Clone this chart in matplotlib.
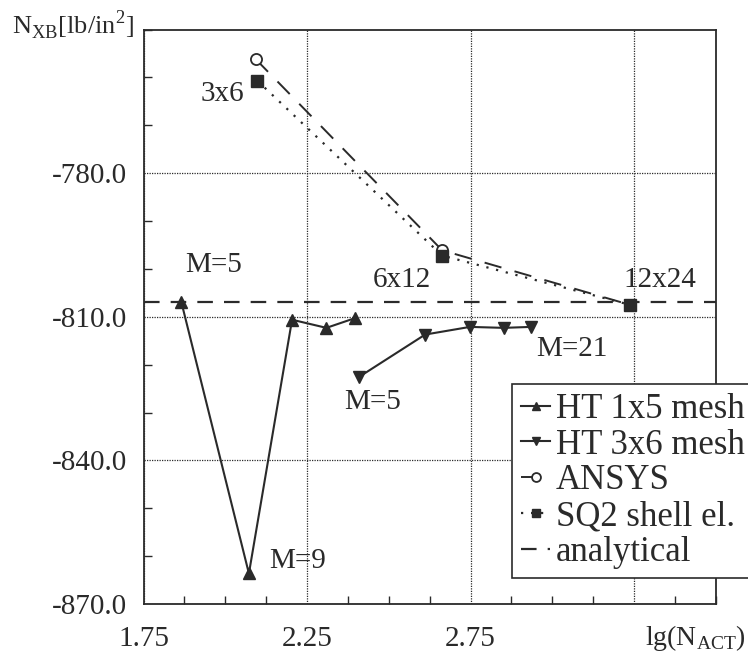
import matplotlib.pyplot as plt
from matplotlib.ticker import MultipleLocator, FixedLocator

plt.rcParams['font.family'] = ['Liberation Serif', 'DejaVu Serif']

# data
ht15_x = [1.865, 2.072, 2.204, 2.309, 2.395]
ht15_y = [-806.8, -863.6, -810.6, -812.3, -810.3]

ht36_x = [2.410, 2.611, 2.748, 2.851, 2.935]
ht36_y = [-822.5, -813.7, -812.1, -812.3, -812.1]

ansys_x = [2.093, 2.663, 3.238]
ansys_y = [-756.2, -796.1, -807.5]

sq2_x = [2.098, 2.663, 3.238]
sq2_y = [-760.7, -797.2, -807.5]

analytical_y = -807.0

mesh_labels = ['3x6', '6x12', '12x24']

ink = '#2a2a2a'

fig = plt.figure(figsize=(7.48, 6.72), dpi=100)
ax = fig.add_axes([0.192, 0.101, 0.765, 0.855])

ax.axhline(analytical_y, color=ink, lw=1.6, ls=(0, (7, 5)), label='analytical')
ax.plot(ht15_x, ht15_y, color=ink, lw=1.5, marker='^', ms=8, label='HT 1x5 mesh')
ax.plot(ht36_x, ht36_y, color=ink, lw=1.5, marker='v', ms=8, label='HT 3x6 mesh')
ax.plot(ansys_x, ansys_y, color=ink, lw=1.4, ls=(0, (9, 7)), marker='o', ms=8,
        mfc='white', mec=ink, mew=1.3, label='ANSYS')
ax.plot(sq2_x, sq2_y, color=ink, lw=1.6, ls=(0, (1, 3.5)), marker='s', ms=8,
        mfc=ink, mec=ink, label='SQ2 shell el.')

ax.set_xlim(1.75, 3.5)
ax.set_ylim(-870, -750)

ax.xaxis.set_major_locator(FixedLocator([1.75, 2.25, 2.75, 3.25]))
ax.set_xticklabels(['1.75', '2.25', '2.75', ''])
ax.xaxis.set_minor_locator(MultipleLocator(0.125))
ax.yaxis.set_major_locator(FixedLocator([-870, -840, -810, -780]))
ax.set_yticklabels(['-870.0', '-840.0', '-810.0', '-780.0'])
ax.yaxis.set_minor_locator(MultipleLocator(10))

ax.tick_params(which='both', direction='in', top=False, right=False,
               labelsize=21, colors=ink)
ax.tick_params(axis='y', pad=12)
ax.tick_params(axis='x', pad=16)
ax.tick_params(which='major', length=0)
ax.tick_params(which='minor', length=6, width=1)
ax.grid(True, which='major', ls=(0, (1, 1)), lw=0.9, color=ink)

for s in ax.spines.values():
    s.set_color(ink)
    s.set_linewidth(1.3)

tk = dict(fontsize=21, color=ink, va='center')
ax.text(2.057, -763.4, mesh_labels[0], ha='right', **tk)
ax.text(2.63, -802.2, mesh_labels[1], ha='right', **tk)
ax.text(3.217, -802.4, mesh_labels[2], ha='left', **tk)
ax.text(1.876, -799.2, 'M=5', ha='left', **tk)
ax.text(2.133, -860.9, 'M=9', ha='left', **tk)
ax.text(2.364, -827.8, 'M=5', ha='left', **tk)
ax.text(2.952, -816.8, 'M=21', ha='left', **tk)

fig.text(0.016, 0.962, r'N$_{\mathregular{XB}}$[lb/in$^{\mathregular{2}}$]', fontsize=19,
         color=ink, ha='left', va='center')
fig.text(0.862, 0.05, r'lg(N$_{\mathregular{ACT}}$)', fontsize=20, color=ink,
         ha='left', va='center')

handles, labels = ax.get_legend_handles_labels()
order = [1, 2, 3, 4, 0]
leg = ax.legend([handles[i] for i in order], [labels[i] for i in order],
                loc='upper left', bbox_to_anchor=(0.644, 0.383), fontsize=25,
                handlelength=0.85, handletextpad=0.15, labelspacing=0.08,
                borderpad=0.25, borderaxespad=0, frameon=True, fancybox=False,
                framealpha=1, edgecolor=ink, markerscale=0.8)
leg.get_frame().set_linewidth(1.2)
for t in leg.get_texts():
    t.set_color(ink)

fig.savefig('out.png', dpi=100)
